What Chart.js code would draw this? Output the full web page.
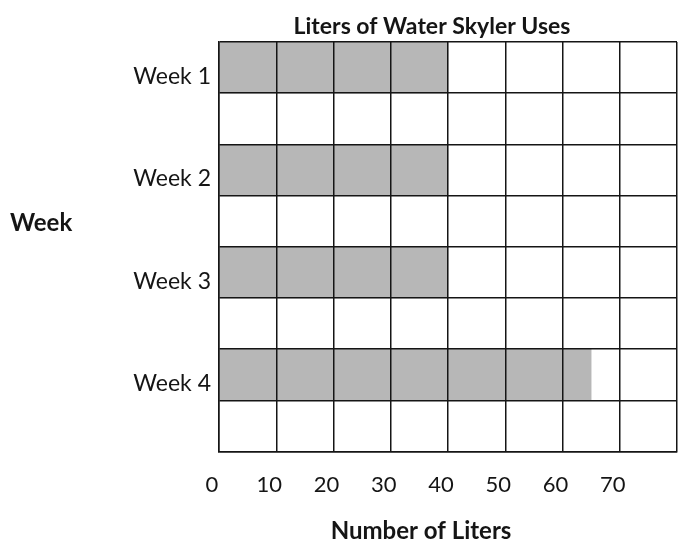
<!DOCTYPE html>
<html><head><meta charset="utf-8">
<script src="https://cdn.jsdelivr.net/npm/chart.js@4/dist/chart.umd.min.js"></script>
<style>html,body{margin:0;padding:0;background:#fff}#wrap{width:678px;height:546px;position:relative}</style>
</head><body><div id="wrap"><canvas id="c" width="678" height="546"></canvas></div>
<script>
const weeks = ['Week 1', 'Week 2', 'Week 3', 'Week 4'];
const liters = [40, 40, 40, 65];
const xTicks = [0, 10, 20, 30, 40, 50, 60, 70];
const xMax = 80;
const chartTitle = 'Liters of Water Skyler Uses';
const xTitle = 'Number of Liters';
const yTitle = 'Week';

// each week occupies a shaded row followed by an empty row
const rowLabels = [], rowValues = [];
weeks.forEach((w, i) => { rowLabels.push(w, ''); rowValues.push(liters[i], null); });

const ink = '#151515';
const titlesPlugin = {
  id: 'titles',
  afterDraw(chart) {
    const ctx = chart.ctx;
    ctx.save();
    ctx.fillStyle = ink;
    ctx.textBaseline = 'middle';
    ctx.font = 'bold 23px Lato';
    ctx.textAlign = 'center';
    ctx.fillText(chartTitle, 432, 27);
    ctx.font = 'bold 24px Lato';
    ctx.fillText(xTitle, 421, 531);
    ctx.textAlign = 'left';
    ctx.fillText(yTitle, 10, 223);
    ctx.restore();
  }
};

new Chart(document.getElementById('c'), {
  type: 'bar',
  data: {
    labels: rowLabels,
    datasets: [{
      data: rowValues,
      backgroundColor: '#b7b7b7',
      borderWidth: 0,
      barPercentage: 1,
      categoryPercentage: 1
    }]
  },
  options: {
    indexAxis: 'y',
    responsive: false,
    animation: false,
    devicePixelRatio: 1,
    layout: { padding: { top: 42, right: 1, bottom: 28, left: 0 } },
    plugins: {
      legend: { display: false },
      tooltip: { enabled: false },
      title: { display: false }
    },
    scales: {
      x: {
        type: 'linear', min: 0, max: xMax,
        ticks: {
          stepSize: 10, color: ink, padding: 20, labelOffset: -7,
          font: { family: 'Lato', size: 22 },
          callback: v => xTicks.includes(v) ? String(v) : ''
        },
        grid: { color: ink, lineWidth: 1.5, drawTicks: false, z: 1 },
        border: { color: ink, width: 1.5, z: 1 },
        afterFit: s => { s.paddingRight = 0; s.paddingLeft = 0; }
      },
      y: {
        type: 'category',
        ticks: { color: ink, padding: 8, labelOffset: 9, font: { family: 'Lato', size: 23 }, autoSkip: false },
        grid: { color: ink, lineWidth: 1.5, drawTicks: false, offset: true, z: 1 },
        border: { color: ink, width: 1.5, z: 1 },
        afterFit: s => { s.width = 219; }
      }
    }
  },
  plugins: [titlesPlugin]
});
</script></body></html>
